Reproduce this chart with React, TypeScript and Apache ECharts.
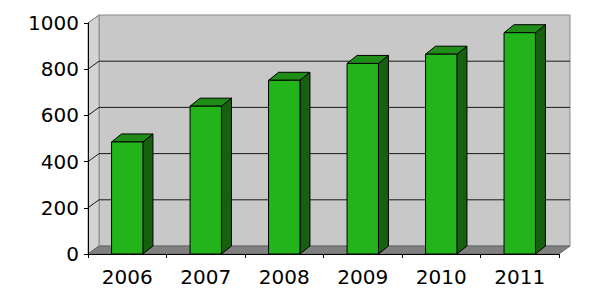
import React, { useEffect, useRef } from "react";
import * as echarts from "echarts";

const categories = ["2006", "2007", "2008", "2009", "2010", "2011"];
const values = [485, 640, 752, 825, 865, 958];
const yTicks = [0, 200, 400, 600, 800, 1000];

const WALL_DX = 11;
const WALL_DY = -8;
const BAR_DX = 10;
const BAR_DY = -8;

export default function App() {
  const ref = useRef<HTMLDivElement>(null);

  useEffect(() => {
    if (!ref.current) return;
    const chart = echarts.init(ref.current, null, { renderer: "svg" });

    const renderWalls = (params: any, api: any) => {
      const cs = params.coordSys;
      const x0 = cs.x;
      const x1 = cs.x + cs.width;
      const yTop = api.coord([0, yTicks[yTicks.length - 1]])[1];
      const yBot = api.coord([0, yTicks[0]])[1];
      const children: any[] = [];
      children.push({
        type: "polygon",
        shape: {
          points: [
            [x0 + WALL_DX, yTop + WALL_DY],
            [x1 + WALL_DX, yTop + WALL_DY],
            [x1 + WALL_DX, yBot + WALL_DY],
            [x0 + WALL_DX, yBot + WALL_DY],
          ],
        },
        style: { fill: "#c8c8c8", stroke: "#8a8a8a", lineWidth: 1 },
      });
      children.push({
        type: "polygon",
        shape: {
          points: [
            [x0, yTop],
            [x0 + WALL_DX, yTop + WALL_DY],
            [x0 + WALL_DX, yBot + WALL_DY],
            [x0, yBot],
          ],
        },
        style: { fill: "#d3d3d3", stroke: "#8a8a8a", lineWidth: 1 },
      });
      children.push({
        type: "polygon",
        shape: {
          points: [
            [x0, yBot],
            [x1, yBot],
            [x1 + WALL_DX, yBot + WALL_DY],
            [x0 + WALL_DX, yBot + WALL_DY],
          ],
        },
        style: { fill: "#808080", stroke: "#666666", lineWidth: 1 },
      });
      yTicks.forEach((v) => {
        if (v === yTicks[0]) return;
        const y = api.coord([0, v])[1];
        const isTop = v === yTicks[yTicks.length - 1];
        const col = isTop ? "#8a8a8a" : "#1a1a1a";
        if (!isTop) {
          children.push({
            type: "line",
            shape: { x1: x0 + WALL_DX, y1: y + WALL_DY, x2: x1 + WALL_DX, y2: y + WALL_DY },
            style: { stroke: col, lineWidth: 1 },
          });
        }
        children.push({
          type: "line",
          shape: { x1: x0, y1: y, x2: x0 + WALL_DX, y2: y + WALL_DY },
          style: { stroke: col, lineWidth: 1 },
        });
      });
      return { type: "group", children };
    };

    const renderBar = (params: any, api: any) => {
      const top = api.coord([api.value(0), api.value(1)]);
      const base = api.coord([api.value(0), 0]);
      const w = api.size([1, 0])[0] * 0.4;
      const xl = top[0] - w / 2;
      const xr = top[0] + w / 2;
      const stroke = { stroke: "#000", lineWidth: 1 };
      return {
        type: "group",
        children: [
          {
            type: "polygon",
            shape: {
              points: [
                [xr, top[1]],
                [xr + BAR_DX, top[1] + BAR_DY],
                [xr + BAR_DX, base[1] + BAR_DY],
                [xr, base[1]],
              ],
            },
            style: { fill: "#16600f", ...stroke },
          },
          {
            type: "polygon",
            shape: {
              points: [
                [xl, top[1]],
                [xl + BAR_DX, top[1] + BAR_DY],
                [xr + BAR_DX, top[1] + BAR_DY],
                [xr, top[1]],
              ],
            },
            style: { fill: "#1f8d17", ...stroke },
          },
          {
            type: "rect",
            shape: { x: xl, y: top[1], width: w, height: base[1] - top[1] },
            style: { fill: "#23b41b", ...stroke },
          },
        ],
      };
    };

    chart.setOption({
      animation: false,
      grid: { left: 88, right: 31, top: 23, bottom: 46, containLabel: false },
      xAxis: {
        type: "category",
        data: categories,
        boundaryGap: true,
        z: 5,
        axisLine: { show: true, lineStyle: { color: "#000", width: 1 } },
        axisTick: { show: true, length: 4, lineStyle: { color: "#000" } },
        axisLabel: { color: "#000", fontSize: 20, fontFamily: "DejaVu Sans", margin: 13 },
        splitLine: { show: false },
      },
      yAxis: {
        type: "value",
        min: 0,
        max: 1000,
        interval: 200,
        z: 5,
        axisLine: { show: true, lineStyle: { color: "#000", width: 1 } },
        axisTick: { show: true, length: 4, lineStyle: { color: "#000" } },
        axisLabel: {
          color: "#000",
          fontSize: 20,
          fontFamily: "DejaVu Sans",
          margin: 9,
          formatter: (v: number) => String(v),
        },
        splitLine: { show: false },
      },
      series: [
        {
          type: "custom",
          z: 1,
          clip: false,
          silent: true,
          renderItem: renderWalls,
          data: [[0, 0]],
        },
        {
          type: "custom",
          z: 3,
          clip: false,
          renderItem: renderBar,
          data: categories.map((c, i) => [i, values[i]]),
        },
      ],
    });

    return () => chart.dispose();
  }, []);

  return (
    <div
      ref={ref}
      style={{ position: "fixed", left: 0, top: 0, width: 590, height: 300, background: "#fff" }}
    />
  );
}
